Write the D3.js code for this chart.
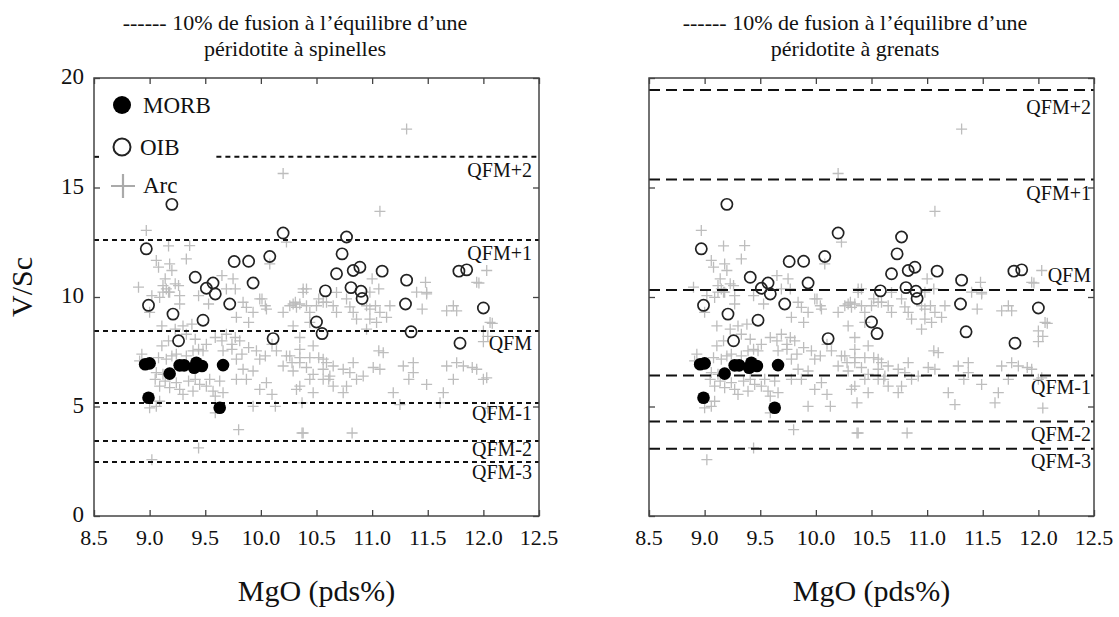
<!DOCTYPE html>
<html><head><meta charset="utf-8">
<script src="https://cdn.jsdelivr.net/npm/d3@7/dist/d3.min.js"></script>
<style>body{margin:0;background:#fff}svg{display:block}text{font-family:"Times New Roman","Liberation Serif",Tinos,Times,serif;fill:#111}</style>
</head><body><svg id="c" width="1119" height="617"></svg>
<script>
// ---------- data ----------
const xTicks = [8.5, 9.0, 9.5, 10.0, 10.5, 11.0, 11.5, 12.0, 12.5];
const yTicks = [0, 5, 10, 15, 20];
const titles = [["------ 10% de fusion à l\u2019équilibre d\u2019une", "péridotite à spinelles"],
                ["------ 10% de fusion à l\u2019équilibre d\u2019une", "péridotite à grenats"]];
const bufferNames = ["QFM+2", "QFM+1", "QFM", "QFM-1", "QFM-2", "QFM-3"];
const spinelValues = [16.4, 12.6, 8.45, 5.16, 3.42, 2.47];
const grenatValues = [19.45, 15.37, 10.32, 6.42, 4.31, 3.07];
const legendNames = ["MORB", "OIB", "Arc"];

const morb = [[8.96,6.93],[9.00,6.97],[9.18,6.50],[9.27,6.88],[9.31,6.88],[9.40,6.77],[9.42,7.00],
  [9.47,6.85],[9.66,6.89],[8.99,5.40],[9.63,4.94]];

const oib = [[9.20,14.23],[8.97,12.20],[10.20,12.92],[9.76,11.62],[9.89,11.63],[10.08,11.85],[9.41,10.90],
  [9.51,10.40],[9.57,10.64],[9.59,10.14],[9.93,10.64],[9.72,9.68],[8.99,9.62],[9.21,9.22],[9.48,8.94],
  [9.26,8.00],[10.11,8.10],[10.50,8.86],[10.55,8.33],[10.58,10.28],[10.77,12.74],[10.73,11.97],[10.68,11.06],
  [10.83,11.21],[10.89,11.36],[11.09,11.18],[10.81,10.43],[10.90,10.26],[10.91,9.93],[11.31,10.77],[11.30,9.68],
  [11.78,11.18],[11.85,11.24],[12.00,9.50],[11.35,8.41],[11.79,7.89]];

const arc = [[8.97,13.04],[10.20,15.64],[9.17,12.33],[9.36,12.35],[9.33,11.74],[9.06,11.67],[9.08,11.36],
  [9.18,11.51],[9.20,11.21],[9.14,10.83],[9.15,10.37],[9.12,10.22],[9.18,10.22],[9.26,10.52],[9.02,10.06],
  [9.44,10.06],[9.65,10.98],[9.75,10.83],[9.77,10.37],[9.69,10.37],[10.08,11.51],[10.23,12.51],[10.41,10.37],
  [10.29,9.68],[10.35,9.68],[10.52,9.91],[9.84,9.76],[9.99,9.91],[10.04,9.60],[9.53,9.68],
  [11.31,17.67],[11.07,13.91],[12.03,11.21],[11.96,10.64],[10.38,10.37],[10.31,9.76],[10.56,9.76],[10.65,9.60],
  [11.00,10.83],[10.98,10.22],[11.06,10.37],[11.40,10.22],[11.49,10.14],[11.73,9.60],[10.80,9.55],[10.95,9.60],
  [8.90,10.45],[9.12,10.52],[9.17,10.22],[9.09,9.98],[9.23,10.60],[9.27,10.06],[9.00,9.30],[9.27,9.68],
  [9.11,8.68],[9.23,8.53],[9.30,8.68],[9.38,8.76],[9.33,8.30],[9.11,7.77],[9.17,8.00],[8.93,7.39],[8.91,7.08],
  [9.08,7.23],[9.15,7.16],[9.20,7.31],[9.24,7.39],[9.33,7.31],[9.41,8.07],[9.44,7.61],[9.39,7.54],[9.48,7.54],
  [9.51,7.84],[9.59,8.15],[9.65,8.00],[9.69,8.30],[9.74,7.84],[9.77,8.15],[9.66,7.54],[9.83,7.39],[9.78,7.16],
  [9.74,7.61],[9.06,6.55],[9.12,6.47],[9.05,6.24],[9.14,6.16],[9.09,5.93],[9.18,5.86],[9.24,6.09],[9.27,5.78],
  [9.30,5.55],[9.35,6.16],[9.41,6.24],[9.45,6.01],[9.51,5.93],[9.39,5.70],[9.57,5.70],[9.54,6.24],[9.63,6.16],
  [9.59,5.47],[9.66,5.63],[9.06,5.01],[9.00,4.94],[9.09,5.24],[9.59,4.71],[9.80,3.94],[9.44,3.11],[9.02,2.57],
  [10.37,3.79],[9.84,6.70],[9.78,6.24],[9.87,6.24],[9.93,6.62],[9.99,7.16],[9.81,8.00],[9.89,7.69],[9.96,7.54],
  [10.04,7.31],[10.10,7.84],[10.14,7.54],[10.23,7.31],[10.20,6.85],[10.28,7.00],[10.29,6.62],[10.35,7.23],
  [10.41,6.78],[10.47,6.47],[10.44,6.24],[10.52,7.23],[10.56,6.70],[10.61,6.24],[10.59,7.00],[9.99,5.78],
  [10.05,6.09],[10.10,5.55],[10.13,5.01],[10.32,5.78],[10.37,5.17],[10.47,5.63],[9.93,5.01],[9.87,9.53],
  [9.93,9.30],[9.78,9.07],[9.89,8.84],[10.05,9.45],[10.01,9.91],[10.20,9.30],[10.26,9.60],[10.41,9.60],
  [10.44,9.30],[10.29,8.68],[10.35,8.15],[10.44,8.84],[10.47,7.77],[10.38,10.21],[10.32,9.53],[10.50,9.60],
  [10.59,9.76],[10.68,10.21],[10.77,9.91],[10.68,9.30],[10.83,9.30],[10.98,9.45],[11.03,9.60],[11.07,9.30],
  [11.16,9.60],[11.13,9.07],[11.04,8.84],[10.98,8.99],[10.95,8.53],[10.86,8.99],[11.49,10.21],[11.45,9.45],
  [11.67,9.37],[11.76,9.37],[11.48,10.67],[11.94,10.67],[12.06,8.84],[12.00,8.45],[10.26,7.31],[10.35,7.61],
  [10.35,7.00],[10.44,7.23],[10.56,7.16],[10.65,6.85],[10.62,6.39],[10.74,6.70],[10.83,7.00],[10.80,6.55],
  [11.01,6.78],[11.07,6.70],[11.06,7.54],[11.10,7.46],[11.28,6.85],[11.37,7.00],[11.37,6.55],[11.33,6.24],
  [11.49,6.01],[11.64,5.63],[11.61,5.17],[11.67,6.85],[11.76,7.00],[11.82,6.85],[11.90,6.78],[11.94,6.70],
  [11.73,6.24],[12.00,6.24],[10.35,5.93],[10.65,5.93],[10.74,5.63],[10.86,6.24],[10.92,6.39],[11.19,5.63],
  [11.25,5.09],[10.38,3.79],[10.82,3.79],[10.77,5.93],[12.03,6.31],[12.04,4.93],[12.08,8.80],[12.00,7.96],
  [12.04,8.20],[10.56,6.24]];

// ---------- layout ----------
const svg = d3.select("#c");
const panels = [
  {x0: 94, x1: 539, top: 78, bot: 516, values: spinelValues, dash: "5,4", labelRight: 532,
   labelDy: [20, 20, 19, 17, 15, 17], tcx: 295, yAxis: true, legend: true, partialFirst: 9.6},
  {x0: 649, x1: 1094, top: 78, bot: 516, values: grenatValues, dash: "11,6", labelRight: 1091,
   labelDy: [24, 21, -8, 19, 19, 19], tcx: 855, yAxis: false, legend: false, partialFirst: null}
];

panels.forEach((p, pi) => {
  const x = d3.scaleLinear().domain([8.5, 12.5]).range([p.x0, p.x1]);
  const y = d3.scaleLinear().domain([0, 20]).range([p.bot, p.top]);
  const g = svg.append("g");

  // Arc crosses
  g.append("g").selectAll("path").data(arc).join("path")
    .attr("d", d => { const cx = x(d[0]), cy = y(d[1]); return `M${cx-5.5},${cy}H${cx+5.5}M${cx},${cy-5.5}V${cy+5.5}`; })
    .attr("stroke", "#bdbdbd").attr("stroke-width", 1.3).attr("fill", "none");

  // buffer lines
  p.values.forEach((v, i) => {
    const xs = (i === 0 && p.partialFirst) ? x(p.partialFirst) : p.x0;
    g.append("line").attr("x1", xs).attr("x2", p.x1).attr("y1", y(v)).attr("y2", y(v))
      .attr("stroke", "#111").attr("stroke-width", 2).attr("stroke-dasharray", p.dash);
    if (i === 0 && p.partialFirst) {
      g.append("line").attr("x1", p.x0).attr("x2", p.x0 + 5).attr("y1", y(v)).attr("y2", y(v))
        .attr("stroke", "#111").attr("stroke-width", 2);
    }
    g.append("text").attr("x", p.labelRight).attr("y", y(v) + p.labelDy[i])
      .attr("text-anchor", "end").attr("font-size", 20).text(bufferNames[i]);
  });

  // OIB open circles
  g.append("g").selectAll("circle").data(oib).join("circle")
    .attr("cx", d => x(d[0])).attr("cy", d => y(d[1])).attr("r", 5.6)
    .attr("fill", "none").attr("stroke", "#222").attr("stroke-width", 1.7);
  // MORB filled
  g.append("g").selectAll("circle").data(morb).join("circle")
    .attr("cx", d => x(d[0])).attr("cy", d => y(d[1])).attr("r", 6.3).attr("fill", "#000");

  // frame
  g.append("rect").attr("x", p.x0).attr("y", p.top).attr("width", p.x1 - p.x0).attr("height", p.bot - p.top)
    .attr("fill", "none").attr("stroke", "#444").attr("stroke-width", 1.5);

  // ticks (inward) via axes
  const tickLen = -6;
  const styleAxis = a => { a.select(".domain").remove(); a.selectAll("line").attr("stroke", "#444").attr("stroke-width", 1.3); };
  g.append("g").attr("transform", `translate(0,${p.bot})`)
    .call(d3.axisBottom(x).tickValues(xTicks).tickSize(tickLen).tickFormat("")).call(styleAxis);
  g.append("g").attr("transform", `translate(0,${p.top})`)
    .call(d3.axisTop(x).tickValues(xTicks).tickSize(tickLen).tickFormat("")).call(styleAxis);
  g.append("g").attr("transform", `translate(${p.x0},0)`)
    .call(d3.axisLeft(y).tickValues(yTicks).tickSize(tickLen).tickFormat("")).call(styleAxis);
  g.append("g").attr("transform", `translate(${p.x1},0)`)
    .call(d3.axisRight(y).tickValues(yTicks).tickSize(tickLen).tickFormat("")).call(styleAxis);

  // x tick labels
  g.append("g").selectAll("text").data(xTicks).join("text")
    .attr("x", d => x(d)).attr("y", 545).attr("text-anchor", "middle").attr("font-size", 22)
    .text(d => d.toFixed(1));
  // x label
  g.append("text").attr("x", (p.x0 + p.x1) / 2).attr("y", 601).attr("text-anchor", "middle")
    .attr("font-size", 30).text("MgO (pds%)");
  // title
  titles[pi].forEach((t, k) => {
    g.append("text").attr("x", p.tcx).attr("y", 30 + k * 26).attr("text-anchor", "middle")
      .attr("font-size", 22).text(t);
  });

  if (p.yAxis) {
    g.append("g").selectAll("text").data(yTicks).join("text")
      .attr("x", 84).attr("y", d => y(d) + 6).attr("text-anchor", "end").attr("font-size", 23)
      .text(d => d);
    g.append("text").attr("transform", `translate(32,287) rotate(-90)`).attr("text-anchor", "middle")
      .attr("font-size", 30).text("V/Sc");
  }

  if (p.legend) {
    const lg = g.append("g");
    lg.append("circle").attr("cx", 122).attr("cy", 105).attr("r", 9).attr("fill", "#000");
    lg.append("circle").attr("cx", 122).attr("cy", 147).attr("r", 8.5).attr("fill", "none")
      .attr("stroke", "#222").attr("stroke-width", 2);
    lg.append("path").attr("d", "M111,186H135M123,174V198").attr("stroke", "#aaa").attr("stroke-width", 2.2);
    const ly = [113, 155, 193];
    legendNames.forEach((n, i) => {
      lg.append("text").attr("x", i === 1 ? 140 : 143).attr("y", ly[i]).attr("font-size", 23).text(n);
    });
  }
});
</script></body></html>
